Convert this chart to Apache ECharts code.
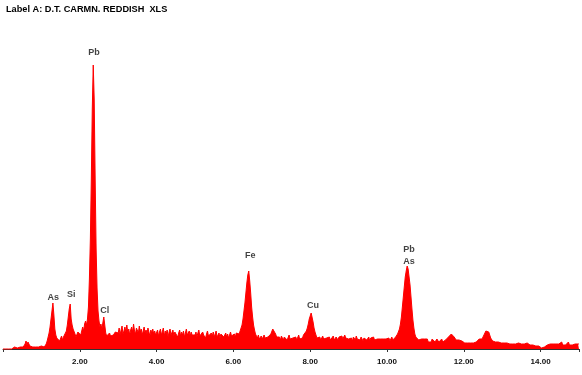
<!DOCTYPE html>
<html>
<head>
<meta charset="utf-8">
<script src="https://cdn.jsdelivr.net/npm/echarts@6/dist/echarts.min.js"></script>
<style>
html,body{margin:0;padding:0;background:#fff;}
#chart{width:582px;height:375px;}
</style>
</head>
<body>
<div id="chart"></div>
<script>
// Spectrum: energy (keV) channels start at 0, step 0.025 keV
var titleText = 'Label A: D.T. CARMN. REDDISH  XLS';
var energyStart = 0;
var energyStep = 0.025;
var counts = [
  // 0.000 - 0.975
  0,0,0,0,0,0,0,0,0,0, 2,1,2,3,2,1,2,3,2,2,3,2,2, 5,8,4,7,6,3, 2,3,2,2,3,2,1,3,2,2,3,
  // 1.000 - 1.975
  3,2,3,2,4,5,8,10,16,22,30,38,46,34,20,14,11,9,12,8,10,13,9,12,14,11,18,24,32,40,45,30,24,20,22,15,12,14,17,15,
  // 2.000 - 2.975
  19,14,16,22,18,25,28,24,30,42,70,110,170,240,284,250,170,100,60,38,28,22,25,20,26,32,24,16,13,15,12,16,13,11,15,14,12,17,15,19,
  // 3.000 - 3.975
  16,21,14,19,23,15,18,22,17,24,16,20,14,19,22,17,25,18,15,21,19,16,23,17,20,14,18,22,16,19,15,21,17,13,19,16,20,15,18,14,
  // 4.000 - 4.975
  15,19,13,17,20,14,16,21,13,18,15,19,12,17,20,14,16,19,13,17,15,18,12,16,19,13,17,14,18,12,16,20,14,15,18,13,17,14,16,13,
  // 5.000 - 5.975
  14,17,12,16,19,13,15,12,17,14,16,11,15,18,13,14,11,16,13,17,12,15,18,12,14,16,11,15,13,17,12,14,16,12,15,11,14,17,13,15,
  // 6.000 - 6.975
  13,15,12,16,14,17,15,18,20,24,30,38,46,56,66,74,78,68,56,42,32,24,19,15,13,11,14,10,12,13,10,12,14,11,13,10,12,14,11,15,
  // 7.000 - 7.975
  17,20,22,18,15,12,14,10,12,9,13,11,9,12,10,13,9,11,14,10,12,9,11,13,10,12,9,11,14,10,12,9,11,14,12,15,18,21,25,30,
  // 8.000 - 8.975
  33,36,34,27,21,17,14,11,13,10,12,9,11,13,10,12,9,11,13,10,12,9,11,10,13,9,11,12,10,9,12,10,11,13,10,12,14,11,10,12,
  // 9.000 - 9.975
  10,12,9,11,8,12,10,9,13,10,8,11,9,12,10,8,11,10,13,9,10,12,8,11,9,10,12,9,8,11,10,12,9,10,8,11,10,9,12,10,
  // 10.000 - 10.975
  10,9,11,8,10,12,9,11,10,12,13,15,17,20,25,32,42,52,62,72,78,83,80,72,64,52,40,29,21,15,12,10,11,9,10,8,10,9,8,10,
  // 11.000 - 11.975
  9,8,10,7,9,8,7,10,8,9,7,8,10,8,7,9,8,10,7,9,8,9,11,10,12,11,13,15,16,14,12,10,9,8,7,9,8,7,8,7,
  // 12.000 - 12.975
  7,6,8,7,6,8,7,6,7,8,6,7,8,7,9,8,10,9,11,10,12,14,16,18,19,20,17,14,11,9,8,7,6,7,6,5,7,6,5,6,
  // 13.000 - 13.975
  6,5,6,4,5,6,5,7,5,4,6,5,4,6,5,5,4,6,5,4,5,6,4,5,4,5,6,4,5,4,4,5,4,3,4,3,4,3,3,2,
  // 14.000 - 14.975
  2,1,2,1,2,2,3,4,5,6,5,4,6,5,7,4,5,6,4,5,6,5,7,4,6,5,4,6,5,7,4,5,6,4,5,6,5,4,6,5,
  // 15.000
  5
];
var tickValues = [2, 4, 6, 8, 10, 12, 14];
var labelNames  = ['As', 'Si', 'Pb', 'Cl', 'Fe', 'Cu', 'Pb', 'As'];
var labelEnergy = [1.31, 1.78, 2.37, 2.65, 6.44, 8.07, 10.57, 10.57];
var labelHeight = [51, 54, 296, 38, 93, 43, 99, 87];

var spectrum = counts.map(function (c, i) {
  return [+(energyStart + i * energyStep).toFixed(3), c];
});
var labelData = labelNames.map(function (n, i) {
  return { value: [labelEnergy[i], labelHeight[i]], name: n };
});

var chart = echarts.init(document.getElementById('chart'), null, { renderer: 'canvas' });
chart.setOption({
  animation: false,
  backgroundColor: '#ffffff',
  title: {
    text: titleText,
    left: 1, top: 0,
    textStyle: { fontFamily: 'Liberation Sans', fontWeight: 'bold', fontSize: 9.2, color: '#000' }
  },
  grid: { left: 0, right: 0, top: 49, bottom: 23, containLabel: false },
  xAxis: {
    type: 'value',
    min: 0, max: 15, interval: 2,
    axisLine: { show: true, lineStyle: { color: '#333', width: 1 } },
    axisTick: { show: true, length: 3, lineStyle: { color: '#333' } },
    splitLine: { show: false },
    axisLabel: {
      margin: 6,
      fontFamily: 'Liberation Sans', fontWeight: 'bold', fontSize: 8, color: '#111',
      formatter: function (v) { return tickValues.indexOf(v) >= 0 ? v.toFixed(2) : ''; }
    }
  },
  yAxis: {
    type: 'value', min: -3, max: 300,
    show: false, splitLine: { show: false }
  },
  series: [
    {
      type: 'line',
      data: spectrum,
      symbol: 'none',
      lineStyle: { color: '#ff0000', width: 1 },
      areaStyle: { color: '#ff0000', opacity: 1, origin: 0 },
      z: 2
    },
    {
      type: 'scatter',
      data: labelData,
      symbolSize: 0,
      clip: false,
      label: {
        show: true, position: 'inside',
        formatter: function (p) { return p.name; },
        fontFamily: 'Liberation Sans', fontWeight: 'bold', fontSize: 9, color: '#111'
      },
      z: 3
    }
  ]
});
</script>
</body>
</html>
